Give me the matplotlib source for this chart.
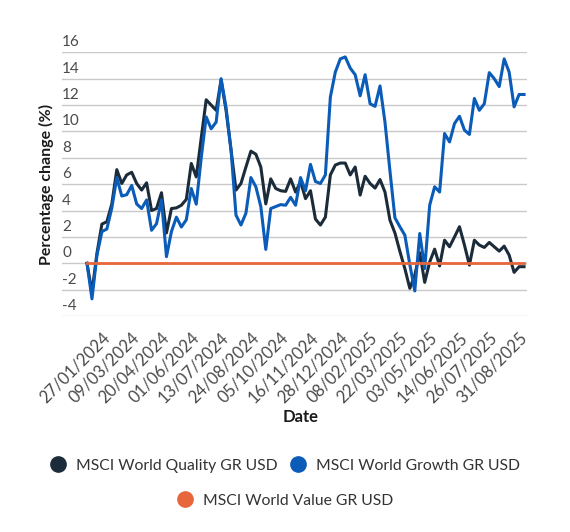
import matplotlib.pyplot as plt
import matplotlib.transforms as mtransforms
from matplotlib.lines import Line2D
import numpy as np

plt.rcParams['font.family'] = ['Lato', 'DejaVu Sans']

# percentage change vs. MSCI World Value
quality = [0.0, -2.2, 0.75, 2.97, 3.15, 4.5, 7.1, 6.05, 6.7, 6.9,
           6.05, 5.55, 6.1, 4.0, 4.15, 5.35, 2.3, 4.15, 4.2, 4.4,
           4.85, 7.57, 6.55, 9.5, 12.4, 12.0, 11.6, 13.9, 11.6, 8.6,
           5.55, 6.05, 7.3, 8.5, 8.27, 7.3, 4.5, 6.4, 5.67, 5.5,
           5.45, 6.4, 5.4, 6.2, 4.9, 5.5, 3.35, 2.9, 3.5, 6.7,
           7.45, 7.6, 7.6, 6.7, 7.3, 5.17, 6.6, 6.05, 5.7, 6.35,
           5.4, 3.27, 2.3, 0.9, -0.4, -1.9, -0.9, 0.8, -1.45, 0.1,
           1.07, -0.2, 1.75, 1.25, 2.0, 2.77, 1.38, -0.14, 1.75, 1.38,
           1.2, 1.58, 1.25, 0.92, 1.3, 0.62, -0.69, -0.26, -0.26]
growth = [0.0, -2.7, 0.6, 2.4, 2.6, 4.2, 6.5, 5.1, 5.2, 5.9,
          4.5, 4.15, 4.8, 2.5, 3.0, 4.8, 0.5, 2.4, 3.5, 2.75,
          3.3, 5.67, 4.48, 8.0, 11.1, 10.2, 10.7, 14.0, 11.8, 8.6,
          3.65, 2.9, 3.8, 6.5, 5.8, 4.3, 1.05, 4.15, 4.3, 4.45,
          4.4, 5.0, 4.4, 6.5, 5.5, 7.5, 6.2, 6.05, 6.7, 12.6,
          14.5, 15.5, 15.65, 14.8, 14.3, 12.7, 14.3, 12.1, 11.9, 13.45,
          10.7, 7.0, 3.45, 2.77, 2.13, -0.1, -2.1, 2.26, -0.4, 4.4,
          5.8, 5.4, 9.84, 9.2, 10.6, 11.15, 10.1, 9.77, 12.5, 11.6,
          12.1, 14.46, 14.0, 13.4, 15.5, 14.5, 11.86, 12.8, 12.8]
value = [0.0] * len(quality)

# a label every 6th week, starting at the 5th point
date_labels = ['27/01/2024', '09/03/2024', '20/04/2024', '01/06/2024',
               '13/07/2024', '24/08/2024', '05/10/2024', '16/11/2024',
               '28/12/2024', '08/02/2025', '22/03/2025', '03/05/2025',
               '14/06/2025', '26/07/2025', '31/08/2025']
yticks = [-4, -2, 0, 2, 4, 6, 8, 10, 12, 14, 16]

names = ['MSCI World Quality GR USD', 'MSCI World Growth GR USD',
         'MSCI World Value GR USD']
colors = ['#1c2b3a', '#0a5cb8', '#e8663b']

x = np.arange(len(quality))

fig = plt.figure(figsize=(5.7, 5.32), dpi=100)
ax = fig.add_axes([0.1088, 0.406, 0.8158, 0.4957])

ax.plot(x, quality, color=colors[0], lw=2.2, zorder=3)
ax.plot(x, growth, color=colors[1], lw=2.2, zorder=4)
ax.plot(x, value, color=colors[2], lw=2.0, zorder=5)

ax.set_xlim(-5.03, 88.6)
ax.set_ylim(-4, 16)
for s in ax.spines.values():
    s.set_visible(False)

# gridlines
ax.set_yticks(yticks)
ax.yaxis.grid(True, color='#c9c9c9', lw=1)
ax.set_axisbelow(True)
ax.tick_params(axis='y', length=0, labelleft=False)

# y labels sit above their gridlines, left aligned
trans = mtransforms.blended_transform_factory(ax.transAxes, ax.transData)
off = mtransforms.ScaledTranslation(0, 0.10, fig.dpi_scale_trans)
for v in yticks:
    ax.text(0, v, str(v), transform=trans + off, ha='left', va='center',
            fontsize=11, color='#4a4a4a')

ax.set_xticks(x[4::6])
ax.set_xticklabels(date_labels, rotation=45, ha='right',
                   rotation_mode='anchor', va='center',
                   fontsize=12, color='#4a4a4a')
ax.tick_params(axis='x', length=0, pad=14)

fig.text(0.082, 0.654, 'Percentage change (%)', rotation=90, ha='center',
         va='center', fontsize=11.5, fontweight='bold', color='#1a1a1a')
fig.text(0.528, 0.216, 'Date', ha='center', va='center', fontsize=12,
         fontweight='bold', color='#1a1a1a')

handles = [Line2D([], [], marker='o', ls='none', markersize=11,
                  color=c) for c in colors]
leg_kw = dict(loc='center', frameon=False, fontsize=11.3, handlelength=1.0,
              handletextpad=0.65, labelcolor='#333333')
fig.legend(handles[:2], names[:2], bbox_to_anchor=(0.5, 0.1246), ncol=2,
           columnspacing=0.75, **leg_kw)
fig.legend(handles[2:], names[2:], bbox_to_anchor=(0.5, 0.0583), **leg_kw)

fig.savefig('out.png', dpi=100)
